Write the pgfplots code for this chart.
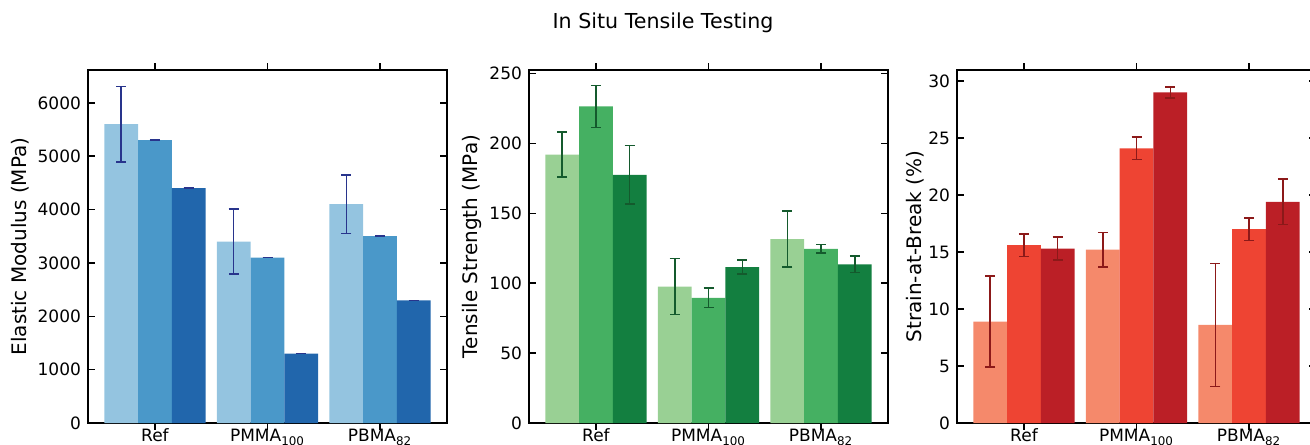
\documentclass[border=0pt]{standalone}
\usepackage{pgfplots}
\pgfplotsset{compat=1.18}
\usepackage{fontspec}
\setmainfont{DejaVu Sans}
\definecolor{b1}{HTML}{94C4E0}
\definecolor{b2}{HTML}{4A98C9}
\definecolor{b3}{HTML}{2166AC}
\definecolor{be}{HTML}{28348C}
\definecolor{g1}{HTML}{99D094}
\definecolor{g2}{HTML}{45B062}
\definecolor{g3}{HTML}{137F40}
\definecolor{ge}{HTML}{145A2D}
\definecolor{r1}{HTML}{F5896B}
\definecolor{r2}{HTML}{EE4433}
\definecolor{r3}{HTML}{BB1F26}
\definecolor{re}{HTML}{8C1919}
\newcommand{\tickfont}{\fontsize{8.5}{10}\selectfont}
\pgfplotsset{
  panel/.style={
    scale only axis, width=179.5pt, height=176.5pt, anchor=south west,
    ybar=0pt, bar width=0.3,
    xmin=-0.595, xmax=2.595, ymin=0,
    xtick={0,1,2}, xticklabels={Ref,PMMA\textsubscript{100},PBMA\textsubscript{82}},
    axis line style={line width=1pt},
    major tick style={line width=0.75pt, black},
    major tick length=3.3pt,
    xticklabel style={font=\tickfont, anchor=base, yshift=-6.1pt},
    yticklabel style={font=\tickfont},
    ylabel style={font=\fontsize{10}{12}\selectfont},
    /pgf/number format/assume math mode=true,
    /pgf/number format/1000 sep={},
    scaled y ticks=false,
  },
  eb/.style={error bars/.cd, y dir=both, y explicit,
    error mark=|,
    error bar style={line width=0.75pt, draw=#1},
    error mark options={line width=0.75pt, draw=#1, mark size=2.5pt}},
}
\begin{document}
\begin{tikzpicture}[x=1pt,y=1pt]
\path[use as bounding box] (0,0) rectangle (655,222);
\node[font=\fontsize{10.3}{12}\selectfont] at (331.5,210.7) {In Situ Tensile Testing};

% Panel 1: Elastic Modulus
\begin{axis}[panel, at={(44pt,10.5pt)}, ymax=6615, ytick={0,1000,...,6000},
  ylabel={Elastic Modulus (MPa)},
  ylabel style={at={(axis description cs:-0.189,0.5)}, anchor=center}]
\addplot[bar shift=-0.3, draw=none, fill=b1, eb=be] coordinates {(0,5600) +- (0,710) (1,3400) +- (0,610) (2,4100) +- (0,550)};
\addplot[bar shift=0, draw=none, fill=b2, eb=be] coordinates {(0,5300) +- (0,0) (1,3100) +- (0,0) (2,3500) +- (0,0)};
\addplot[bar shift=0.3, draw=none, fill=b3, eb=be] coordinates {(0,4400) +- (0,0) (1,1300) +- (0,0) (2,2300) +- (0,0)};
\end{axis}

% Panel 2: Tensile Strength
\begin{axis}[panel, at={(264.5pt,10.5pt)}, ymax=252.5, ytick={0,50,...,250},
  ylabel={Tensile Strength (MPa)},
  ylabel style={at={(axis description cs:-0.159,0.5)}, anchor=center}]
\addplot[bar shift=-0.3, draw=none, fill=g1, eb=ge] coordinates {(0,192) +- (0,16) (1,97.5) +- (0,20) (2,131.5) +- (0,20)};
\addplot[bar shift=0, draw=none, fill=g2, eb=ge] coordinates {(0,226.5) +- (0,15) (1,89.5) +- (0,7) (2,124.5) +- (0,3)};
\addplot[bar shift=0.3, draw=none, fill=g3, eb=ge] coordinates {(0,177.5) +- (0,21) (1,111.5) +- (0,5) (2,113.5) +- (0,6)};
\end{axis}

% Panel 3: Strain-at-Break
\begin{axis}[panel, at={(478.5pt,10.5pt)}, ymax=30.97, ytick={0,5,...,30},
  ylabel={Strain-at-Break (\%)},
  ylabel style={at={(axis description cs:-0.117,0.5)}, anchor=center}]
\addplot[bar shift=-0.3, draw=none, fill=r1, eb=re] coordinates {(0,8.9) +- (0,4.0) (1,15.2) +- (0,1.5) (2,8.6) +- (0,5.4)};
\addplot[bar shift=0, draw=none, fill=r2, eb=re] coordinates {(0,15.6) +- (0,1.0) (1,24.1) +- (0,1.0) (2,17.0) +- (0,1.0)};
\addplot[bar shift=0.3, draw=none, fill=r3, eb=re] coordinates {(0,15.3) +- (0,1.0) (1,29.0) +- (0,0.5) (2,19.4) +- (0,2.0)};
\end{axis}
\end{tikzpicture}
\end{document}
